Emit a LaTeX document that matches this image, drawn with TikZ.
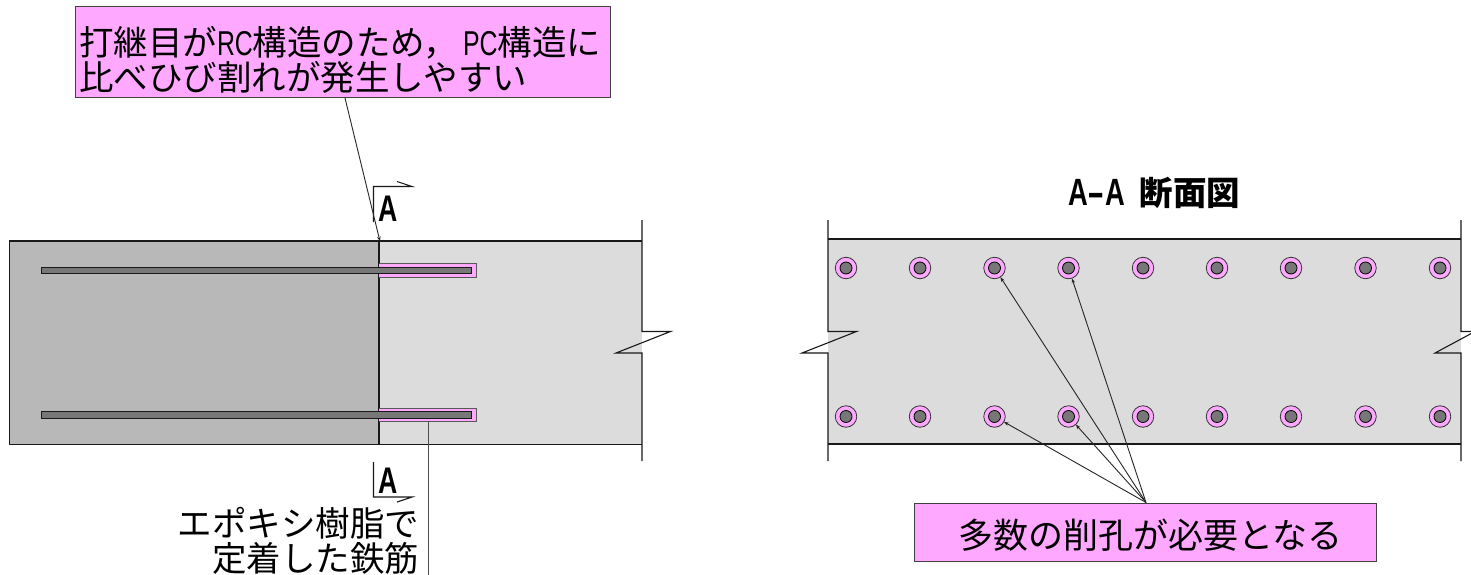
\documentclass[tikz,border=0pt]{standalone}
\usepackage{fontspec}
\setmainfont{Noto Sans CJK JP}
\newfontfamily\hwfont[FakeStretch=0.72]{Liberation Sans}
\usetikzlibrary{arrows.meta}
\definecolor{pinkfill}{HTML}{FFA8FF}
\definecolor{darkconc}{HTML}{B8B8B8}
\definecolor{lightconc}{HTML}{DCDCDC}
\definecolor{steel}{HTML}{777777}
\newcommand{\hw}[1]{{\hwfont #1}}
\tikzset{
  every node/.style={inner sep=0pt,outer sep=0pt},
  edge/.style={line width=1.1pt,black!90},
  tipleader/.style={line width=0.9pt,black!85,-{Stealth[length=5pt,width=3.5pt]}},
  callout/.style={draw=black!75,line width=1pt,fill=pinkfill},
  big/.style={font=\fontsize{34.5}{36}\selectfont},
  bar/.style={draw=black!90,line width=1pt,fill=steel},
  sheath/.style={draw=black!65,line width=1pt},
  holeout/.style={circle,draw=black!80,line width=0.8pt,fill=pinkfill,minimum size=21.5pt},
  holein/.style={circle,draw=black,line width=0.8pt,fill=steel,minimum size=12pt},
  sectionmark/.style={font=\fontsize{37}{37}\selectfont\bfseries\hwfont,anchor=base},
}
\begin{document}
\begin{tikzpicture}[x=1pt,y=-1pt]
\useasboundingbox (0,0) rectangle (1471,575);
% left figure
\fill[lightconc] (379,241) rectangle (642,444.5);
\fill[darkconc] (9.5,241) rectangle (379,444.5);
\draw[edge] (379,444.5) -- (9.5,444.5) -- (9.5,241) -- (642,241);
\draw[edge] (379,444.5) -- (642,444.5);
\draw[edge] (379,241) -- (379,444.5);
\draw[edge] (642,220) -- (642,331.5) -- (670.5,331.5) -- (616,353) -- (642,353) -- (642,461);
\fill[pinkfill] (379,263.5) rectangle (475.5,276.5);
\fill[pinkfill] (379,408.5) rectangle (475.5,421);
\draw[sheath] (379,263) -- (476,263) -- (476,277) -- (379,277);
\draw[sheath] (379,408) -- (476,408) -- (476,421.5) -- (379,421.5);
\draw[bar] (41.5,267) rectangle (471.5,273);
\draw[bar] (41.5,411.5) rectangle (471.5,418);
% section marks
\draw[edge] (373.5,222) -- (373.5,186.5) -- (412,186.5) -- (397,181.5);
\node[sectionmark] (am1) at (388,221) {A};
\draw[edge] (373.5,462) -- (373.5,497) -- (412,497) -- (397,502);
\node[sectionmark] (am2) at (388,493) {A};
% top call-out
\node[callout,minimum width=534.5pt,minimum height=91pt] (topbox) at (343,52.5) {};
\node[big,anchor=base west] (topline1) at (79,55.5) {打継目が\hw{RC}構造のため，\hspace{5pt}\hw{PC}構造に};
\node[big,anchor=base west] (topline2) at (79,91) {比べひび割れが発生しやすい};
\coordinate (topfoot) at (345,98);
\coordinate (joint) at (380,241.5);
\draw[tipleader] (topfoot) -- (joint);
% rebar label
\node[big,anchor=base east] (epoxy1) at (419,536) {エポキシ樹脂で};
\node[big,anchor=base east] (epoxy2) at (419,571) {定着した鉄筋};
\coordinate (barfoot) at (428,421);
\coordinate (labelfoot) at (428,575);
\draw[line width=1pt,black!70] (barfoot) -- (labelfoot);
% right figure
\fill[lightconc] (828,239) rectangle (1461,444);
\draw[edge] (828,239) -- (1461,239);
\draw[edge] (828,444) -- (1461,444);
\draw[edge] (828,220) -- (828,331.5) -- (856.5,331.5) -- (802,353) -- (828,353) -- (828,461);
\draw[edge] (1461,220) -- (1461,331.5) -- (1475,331.5) -- (1435,353) -- (1461,353) -- (1461,461);
\foreach \n/\x in {1/846,2/920,3/994.5,4/1068.5,5/1143,6/1217,7/1291,8/1365.5,9/1440}{
  \node[holeout] (ht\n) at (\x,268) {};
  \node[holein] at (\x,268) {};
  \node[holeout] (hb\n) at (\x,416.5) {};
  \node[holein] at (\x,416.5) {};
}
\node[anchor=base west] (title) at (1068,205.5)
  {{\hwfont\bfseries\fontsize{38}{38}\selectfont A\scalebox{1.9}[1]{-}A}\hspace{15pt}{\bfseries\fontsize{33.5}{34}\selectfont 断面図}};
\node[callout,minimum width=462pt,minimum height=58pt] (rbox) at (1145,532) {};
\node[font=\fontsize{35}{36}\selectfont] (rtext) at (1150.5,535) {多数の削孔が必要となる};
\coordinate (fan) at (1146,502.5);
\foreach \t in {ht3,ht4,hb3,hb4}{\draw[tipleader] (fan) -- (\t);}
\end{tikzpicture}
\end{document}
